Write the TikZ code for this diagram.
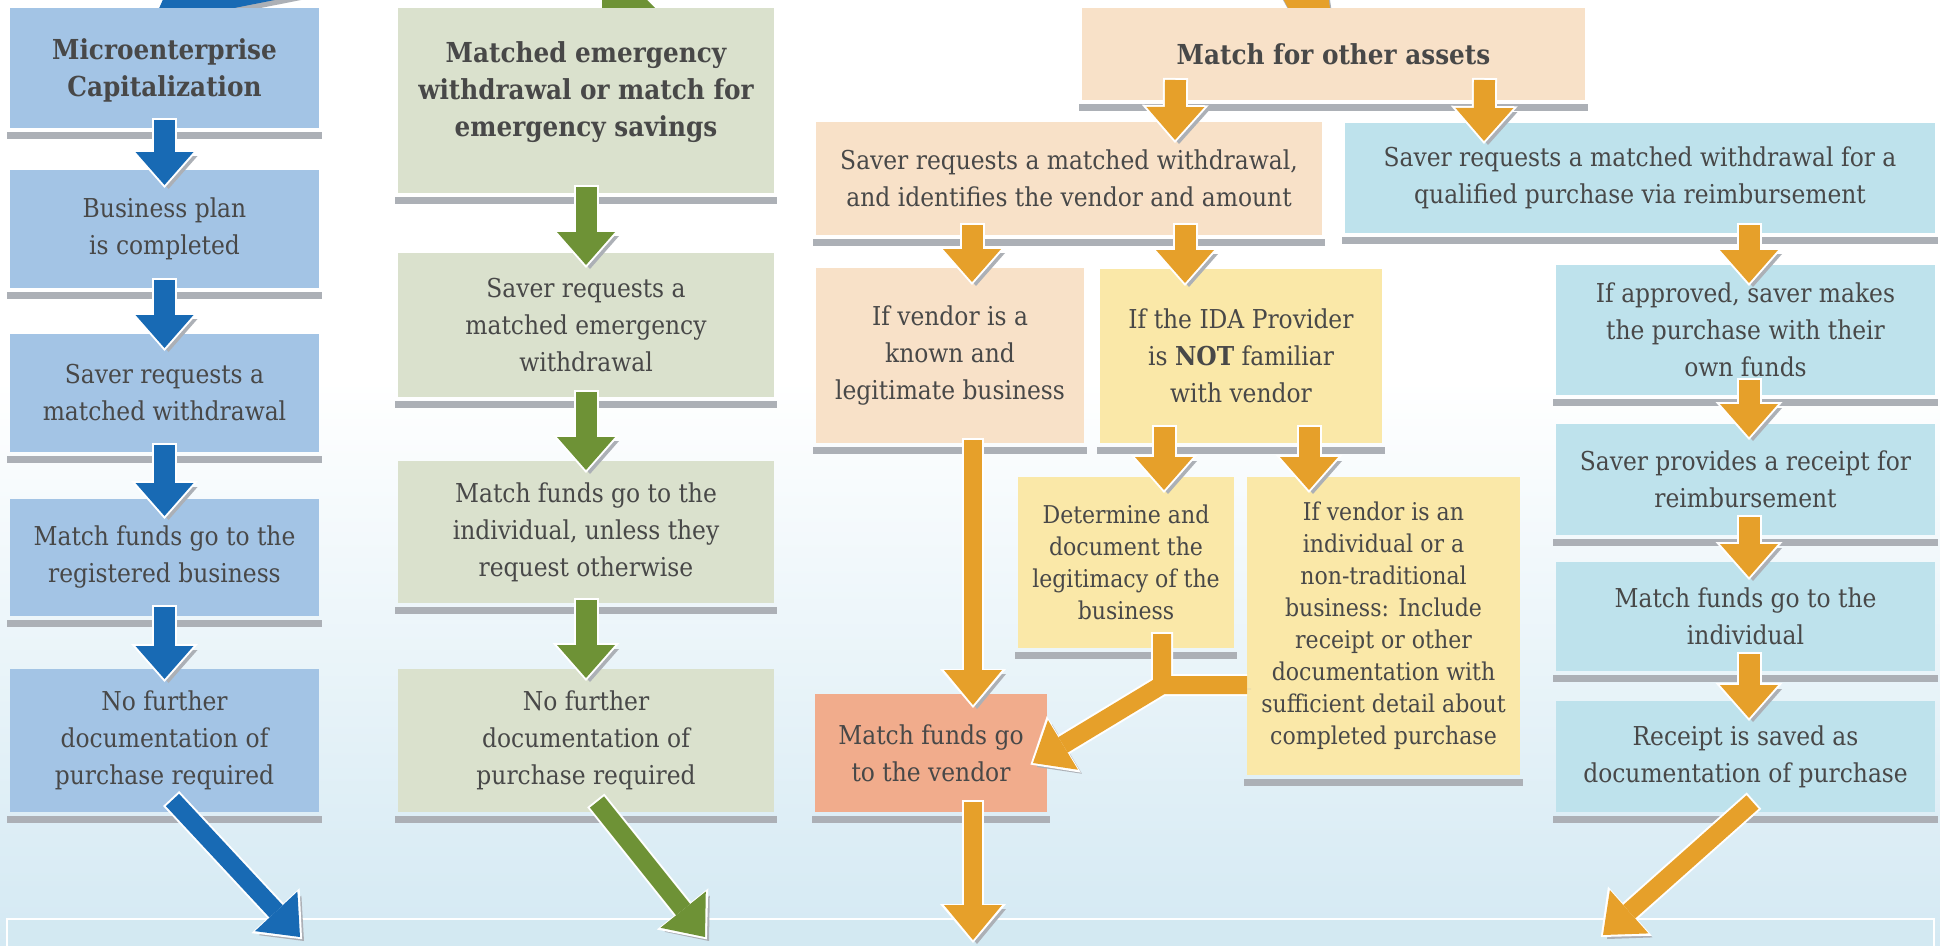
\documentclass[tikz,border=0pt]{standalone}
\usepackage{fontspec}
\setmainfont{DejaVu Serif Condensed}
\usetikzlibrary{arrows.meta,positioning}

\definecolor{boxblue}{RGB}{163,196,229}
\definecolor{boxgreen}{RGB}{218,225,205}
\definecolor{boxpeach}{RGB}{248,225,200}
\definecolor{boxyellow}{RGB}{250,232,168}
\definecolor{boxsalmon}{RGB}{241,172,140}
\definecolor{boxsky}{RGB}{190,226,236}
\definecolor{arrblue}{RGB}{24,106,180}
\definecolor{arrgreen}{RGB}{110,146,54}
\definecolor{arrorange}{RGB}{230,160,42}
\definecolor{barshade}{RGB}{172,176,182}
\definecolor{textgray}{RGB}{72,72,72}
\definecolor{bgblue}{RGB}{212,233,243}
\definecolor{bandblue}{RGB}{211,233,242}

\tikzset{
	stage/.style={rectangle, fill=#1, inner sep=0pt, outer sep=0pt,
		align=center, text=textgray, font=\fontsize{26}{37}\selectfont},
	head/.style={font=\fontsize{27.5}{37}\selectfont\bfseries},
	tight/.style={font=\fontsize{24.5}{32}\selectfont},
	chev/.style={draw=#1, line width=21pt,
		-{Triangle[width=58pt,length=33pt,line width=0pt]},
		preaction={draw=barshade, transform canvas={shift={(4pt,-4pt)}}},
		preaction={draw=white, line width=25pt, shorten >=-3pt, shorten <=-2pt,
			-{Triangle[width=67pt,length=38pt,line width=0pt]}}},
	longarr/.style={draw=#1, line width=18pt,
		-{Triangle[width=58pt,length=35pt,line width=0pt]},
		preaction={draw=barshade, transform canvas={shift={(4pt,-4pt)}}},
		preaction={draw=white, line width=22pt, shorten >=-3pt, shorten <=-2pt,
			-{Triangle[width=66pt,length=39pt,line width=0pt]}}}
}

\begin{document}
\begin{tikzpicture}[x=1pt,y=-1pt]
	\useasboundingbox (0,0) rectangle (1940,945);
	\clip (0,0) rectangle (1940,945);
	% background
	\fill[white] (0,0) rectangle (1940,945);
	\shade[top color=white, bottom color=bgblue] (0,380) rectangle (1940,945);

	% pieces of arrows coming from above
	\fill[barshade, shift={(1,5)}] (165,-5) -- (157,13) -- (212,33) -- (209,13) -- (300,-5) -- cycle;
	\fill[arrblue] (165,-5) -- (157,13) -- (212,33) -- (209,13) -- (300,-5) -- cycle;
	\fill[barshade, shift={(1,7)}] (602,-5) -- (602,15) -- (660,13) -- (642,-5) -- cycle;
	\fill[arrgreen] (602,-5) -- (602,15) -- (660,13) -- (642,-5) -- cycle;
	\fill[barshade, shift={(2,5)}] (1281,-5) -- (1292,15) -- (1278,27) -- (1332,22) -- (1328,-5) -- cycle;
	\fill[arrorange] (1281,-5) -- (1292,15) -- (1278,27) -- (1332,22) -- (1328,-5) -- cycle;

	% microenterprise column
	\node[stage=boxblue, head, text depth=0pt, minimum width=309pt, minimum height=120pt,
	anchor=north west] (mec) at (10,8) {Microenterprise\\Capitalization};
	\node[stage=boxblue, minimum width=309pt, minimum height=118pt,
	below=42pt of mec] (plan) {Business plan\\is completed};
	\node[stage=boxblue, minimum width=309pt, minimum height=118pt,
	below=46pt of plan] (bsave) {Saver requests a\\matched withdrawal};
	\node[stage=boxblue, minimum width=309pt, minimum height=117pt,
	below=47pt of bsave] (regbus) {Match funds go to the\\registered business};
	\node[stage=boxblue, minimum width=309pt, minimum height=143pt,
	below=53pt of regbus] (bnone) {No further\\documentation of\\purchase required};

	% emergency column
	\node[stage=boxgreen, head, text depth=22pt, minimum width=376pt, minimum height=185pt,
	anchor=north west] (emerg) at (398,8) {Matched emergency\\withdrawal or match for\\emergency savings};
	\node[stage=boxgreen, minimum width=376pt, minimum height=144pt,
	below=60pt of emerg] (greq) {Saver requests a\\matched emergency\\withdrawal};
	\node[stage=boxgreen, minimum width=376pt, minimum height=142pt,
	below=64pt of greq] (gfunds) {Match funds go to the\\individual, unless they\\request otherwise};
	\node[stage=boxgreen, minimum width=376pt, minimum height=143pt,
	below=66pt of gfunds] (gnone) {No further\\documentation of\\purchase required};

	% other assets
	\node[stage=boxpeach, head, minimum width=503pt, minimum height=92pt,
	anchor=north west] (other) at (1082,8) {Match for other assets};
	\node[stage=boxpeach, minimum width=506pt, minimum height=113pt,
	anchor=north west] (vreq) at (816,122) {Saver requests a matched withdrawal,\\and identifies the vendor and amount};
	\node[stage=boxsky, minimum width=590pt, minimum height=110pt,
	anchor=north west] (reimb) at (1345,123) {Saver requests a matched withdrawal for a\\qualified purchase via reimbursement};
	\node[stage=boxpeach, minimum width=268pt, minimum height=175pt,
	anchor=north west] (known) at (816,268) {If vendor is a\\known and\\legitimate business};
	\node[stage=boxyellow, minimum width=282pt, minimum height=174pt,
	anchor=north west] (ida) at (1100,269) {If the IDA Provider\\is \textbf{NOT} familiar\\with vendor};
	\node[stage=boxsky, minimum width=379pt, minimum height=130pt,
	anchor=north west] (approved) at (1556,265) {If approved, saver makes\\the purchase with their\\own funds};
	\node[stage=boxyellow, tight, minimum width=216pt, minimum height=171pt,
	anchor=north west] (det) at (1018,477) {Determine and\\document the\\legitimacy of the\\business};
	\node[stage=boxyellow, tight, minimum width=273pt, minimum height=298pt,
	anchor=north west] (indiv) at (1247,477) {If vendor is an\\individual or a\\non-traditional\\business: Include\\receipt or other\\documentation with\\sufficient detail about\\completed purchase};
	\node[stage=boxsalmon, minimum width=232pt, minimum height=118pt,
	anchor=north west] (vendor) at (815,694) {Match funds go\\to the vendor};
	\node[stage=boxsky, minimum width=379pt, minimum height=111pt,
	below=29pt of approved] (provides) {Saver provides a receipt for\\reimbursement};
	\node[stage=boxsky, minimum width=379pt, minimum height=109pt,
	below=27pt of provides] (indfunds) {Match funds go to the\\individual};
	\node[stage=boxsky, minimum width=379pt, minimum height=111pt,
	below=30pt of indfunds] (saved) {Receipt is saved as\\documentation of purchase};

	% band at the bottom
	\node[fill=bandblue, draw=white, line width=2pt, inner sep=0pt,
	minimum width=1927pt, minimum height=40pt, anchor=north west] (result) at (6,918) {};

	% grey bars under the boxes
	\foreach \b in {mec,plan,bsave,regbus,bnone,emerg,greq,gfunds,gnone,other,vreq,reimb,
		known,ida,approved,det,indiv,vendor,provides,indfunds,saved}
	\fill[barshade] ([shift={(-3pt,-4pt)}]\b.south west) rectangle ([shift={(3pt,-11pt)}]\b.south east);

	% Arrows
	\draw[chev=arrblue] ([yshift=8pt]mec.south) -- ([yshift=-15pt]plan.north);
	\draw[chev=arrblue] ([yshift=8pt]plan.south) -- ([yshift=-14pt]bsave.north);
	\draw[chev=arrblue] ([yshift=7pt]bsave.south) -- ([yshift=-17pt]regbus.north);
	\draw[chev=arrblue] ([yshift=9pt]regbus.south) -- ([yshift=-10pt]bnone.north);
	\draw[longarr=arrblue] ([shift={(8pt,12pt)}]bnone.south) -- ([shift={(294pt,-19pt)}]result.north west);

	\draw[chev=arrgreen] ([yshift=6pt]emerg.south) -- ([yshift=-12pt]greq.north);
	\draw[chev=arrgreen] ([yshift=5pt]greq.south) -- ([yshift=-9pt]gfunds.north);
	\draw[chev=arrgreen] ([yshift=3pt]gfunds.south) -- ([yshift=-9pt]gnone.north);
	\draw[longarr=arrgreen] ([shift={(11pt,10pt)}]gnone.south) -- ([shift={(699pt,-19pt)}]result.north west);

	\draw[chev=arrorange] ([shift={(-158pt,20pt)}]other.south) -- ([shift={(106pt,-18pt)}]vreq.north);
	\draw[chev=arrorange] ([shift={(151pt,20pt)}]other.south) -- ([shift={(-156pt,-18pt)}]reimb.north);
	\draw[chev=arrorange] ([shift={(-97pt,10pt)}]vreq.south) -- ([shift={(22pt,-14pt)}]known.north);
	\draw[chev=arrorange] ([shift={(116pt,10pt)}]vreq.south) -- ([shift={(-56pt,-14pt)}]ida.north);
	\draw[chev=arrorange] ([shift={(109pt,8pt)}]reimb.south) -- ([shift={(3.5pt,-18pt)}]approved.north);
	\draw[chev=arrorange] ([shift={(-77pt,16pt)}]ida.south) -- ([shift={(38pt,-13pt)}]det.north);
	\draw[chev=arrorange] ([shift={(68pt,16pt)}]ida.south) -- ([shift={(-74.5pt,-13pt)}]indiv.north);
	\draw[chev=arrorange] ([shift={(3.5pt,15pt)}]approved.south) -- ([shift={(3.5pt,-13pt)}]provides.north);
	\draw[chev=arrorange] ([shift={(3.5pt,18pt)}]provides.south) -- ([shift={(3.5pt,-15pt)}]indfunds.north);
	\draw[chev=arrorange] ([shift={(3.5pt,17pt)}]indfunds.south) -- ([shift={(3.5pt,-17pt)}]saved.north);

	\draw[longarr=arrorange] ([shift={(23pt,3pt)}]known.south) -- ([shift={(42pt,-11pt)}]vendor.north);
	\coordinate (joint) at (1162,685);
	\draw[longarr=arrorange] (indiv.west |- joint) -- (joint)
	([shift={(36pt,14pt)}]det.south) -- (joint) -- ([shift={(-14pt,-10pt)}]vendor.east);
	\draw[longarr=arrorange] ([shift={(42pt,10pt)}]vendor.south) -- ([shift={(967pt,-22pt)}]result.north west);
	\draw[longarr=arrorange] ([shift={(7pt,10pt)}]saved.south) -- ([shift={(1597pt,-17pt)}]result.north west);
\end{tikzpicture}
\end{document}
